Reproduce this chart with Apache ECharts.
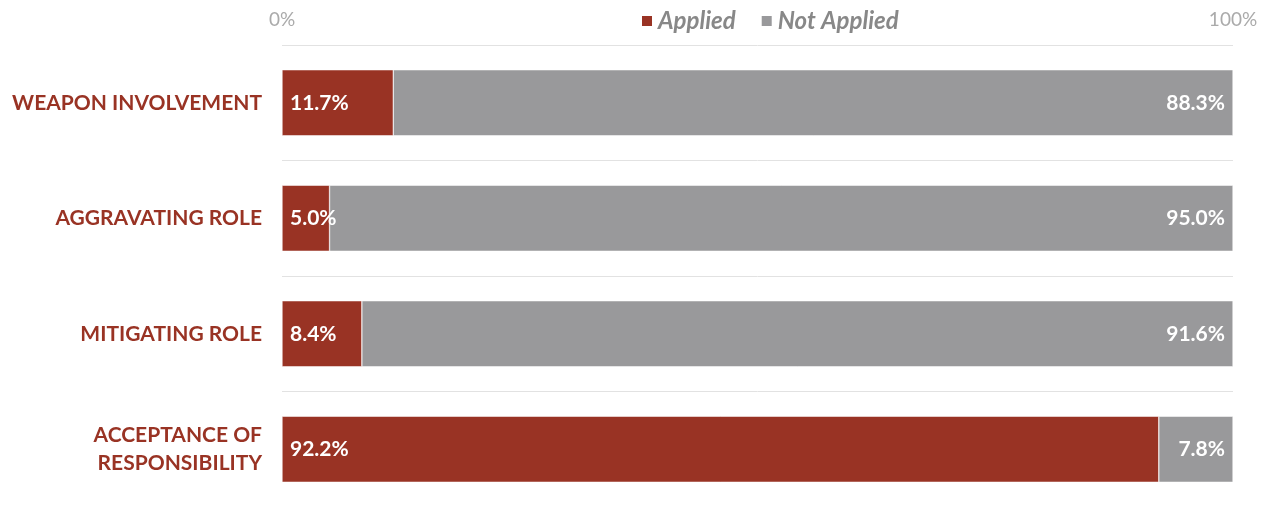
<!DOCTYPE html>
<html>
<head>
<meta charset="utf-8">
<script src="https://cdn.jsdelivr.net/npm/echarts@6/dist/echarts.min.js"></script>
<style>
  html, body { margin: 0; padding: 0; background: #fff; }
  #chart { width: 1266px; height: 507px; }
</style>
</head>
<body>
<div id="chart"></div>
<script>
const categories = ['WEAPON INVOLVEMENT', 'AGGRAVATING ROLE', 'MITIGATING ROLE', 'ACCEPTANCE OF\nRESPONSIBILITY'];
const applied = [11.7, 5.0, 8.4, 92.2];
const notApplied = [88.3, 95.0, 91.6, 7.8];

const RED = '#993324';
const GREY = '#99999b';
const FONT = 'Lato';

const chart = echarts.init(document.getElementById('chart'));

chart.setOption({
  animation: false,
  textStyle: { fontFamily: FONT },
  legend: {
    top: 4,
    left: 635,
    itemWidth: 12,
    itemHeight: 12,
    itemGap: 24,
    icon: 'rect',
    textStyle: {
      fontFamily: FONT,
      fontSize: 24,
      fontStyle: 'italic',
      fontWeight: 'bold',
      color: '#888888',
    },
    data: ['Applied', 'Not Applied'],
  },
  grid: {
    left: 282,
    right: 33,
    top: 45,
    bottom: -4,
  },
  xAxis: {
    type: 'value',
    position: 'top',
    min: 0,
    max: 100,
    interval: 100,
    axisLine: { show: false },
    axisTick: { show: false },
    splitLine: { show: false },
    axisLabel: {
      formatter: '{value}%',
      color: '#aaaaaa',
      fontSize: 19,
      fontFamily: FONT,
      margin: 16,
    },
  },
  yAxis: {
    type: 'category',
    inverse: true,
    data: categories,
    axisLine: { show: false },
    axisTick: { show: false },
    splitLine: { show: true, lineStyle: { color: '#e2e2e2', width: 1 } },
    axisLabel: {
      color: RED,
      fontSize: 21,
      fontWeight: 'bold',
      fontFamily: FONT,
      margin: 20,
      lineHeight: 28,
      align: 'right',
    },
  },
  series: [
    {
      name: 'Applied',
      type: 'bar',
      stack: 'total',
      barWidth: 66,
      data: applied,
      itemStyle: { color: RED, borderColor: '#ffffff', borderWidth: 0.5 },
      label: {
        show: true,
        position: 'insideLeft',
        distance: 8,
        color: '#ffffff',
        fontSize: 21,
        fontWeight: 'bold',
        fontFamily: FONT,
        formatter: p => p.value.toFixed(1) + '%',
      },
    },
    {
      name: 'Not Applied',
      type: 'bar',
      stack: 'total',
      barWidth: 66,
      data: notApplied,
      itemStyle: { color: GREY, borderColor: '#ffffff', borderWidth: 0.5 },
      label: {
        show: true,
        position: 'insideRight',
        distance: 8,
        color: '#ffffff',
        fontSize: 21,
        fontWeight: 'bold',
        fontFamily: FONT,
        formatter: p => p.value.toFixed(1) + '%',
      },
    },
  ],
});
</script>
</body>
</html>
